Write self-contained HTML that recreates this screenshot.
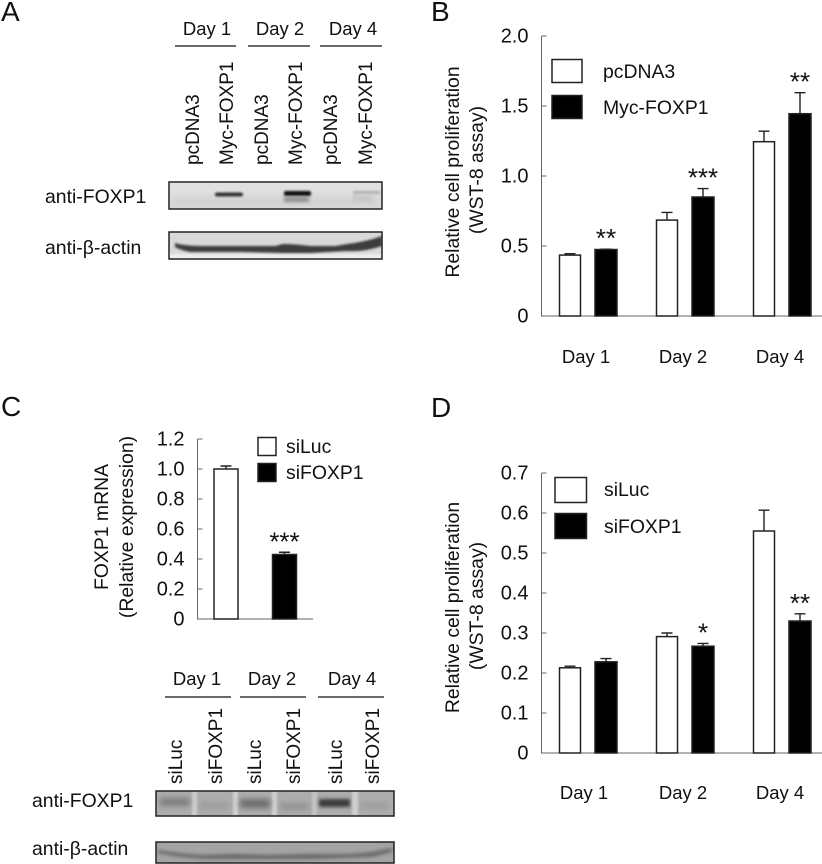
<!DOCTYPE html>
<html lang="en">
<head>
<meta charset="utf-8">
<title>FOXP1 proliferation figure</title>
<style>
html,body{margin:0;padding:0;background:#fff;width:822px;height:864px;overflow:hidden}
svg{display:block}
text{font-family:"Liberation Sans",Arial,sans-serif;font-size:19.4px;fill:#111}
.panel{font-size:28px}
.tick{text-anchor:end;font-size:20px}
.mid{text-anchor:middle}
.day{font-size:18.5px}
.lane{font-size:19px}
</style>
</head>
<body>
<svg id="figure" xmlns="http://www.w3.org/2000/svg" width="822" height="864" viewBox="0 0 822 864">
<defs>
<filter id="b1" x="-30%" y="-100%" width="160%" height="300%"><feGaussianBlur stdDeviation="1.1"/></filter>
<filter id="b2" x="-30%" y="-100%" width="160%" height="300%"><feGaussianBlur stdDeviation="1.8"/></filter>
<filter id="b3" x="-30%" y="-150%" width="160%" height="400%"><feGaussianBlur stdDeviation="2.8"/></filter>
<clipPath id="c1"><rect x="169" y="182" width="213" height="27"/></clipPath>
<clipPath id="c2"><rect x="169" y="232" width="213" height="27"/></clipPath>
<clipPath id="c3"><rect x="156" y="791" width="238" height="25"/></clipPath>
<clipPath id="c4"><rect x="156" y="842" width="238" height="21"/></clipPath>
</defs>

<text class="panel" x="1" y="21">A</text>
<text class="panel" x="431" y="21">B</text>
<text class="panel" x="1" y="416">C</text>
<text class="panel" x="431" y="417">D</text>

<!-- Panel A blot headers -->
<g>
<text class="mid day" x="207" y="35">Day 1</text>
<text class="mid day" x="280" y="35">Day 2</text>
<text class="mid day" x="353" y="35">Day 4</text>
<path d="M175 46H236M248 46H310M320 46H382" stroke="#111" stroke-width="1.2" fill="none"/>
</g>
<g>
<text class="lane" transform="translate(199 165) rotate(-90)">pcDNA3</text>
<text class="lane" transform="translate(233 165) rotate(-90)">Myc-FOXP1</text>
<text class="lane" transform="translate(268 165) rotate(-90)">pcDNA3</text>
<text class="lane" transform="translate(302 165) rotate(-90)">Myc-FOXP1</text>
<text class="lane" transform="translate(337 165) rotate(-90)">pcDNA3</text>
<text class="lane" transform="translate(372 165) rotate(-90)">Myc-FOXP1</text>
</g>
<text x="45" y="203">anti-FOXP1</text>
<text x="45" y="254">anti-β-actin</text>

<g>
<rect x="169" y="182" width="213" height="27" fill="#e0e0e0"/>
<g clip-path="url(#c1)">
<rect x="169" y="196" width="213" height="13" fill="#d4d4d4" filter="url(#b3)"/>
<rect x="215" y="192.5" width="28" height="4" rx="2" fill="#333" filter="url(#b1)"/>
<rect x="284" y="191" width="27" height="5" rx="2" fill="#0c0c0c" filter="url(#b1)"/>
<rect x="284" y="197" width="25" height="5" fill="#8c8c8c" filter="url(#b2)"/>
<rect x="353" y="191" width="27" height="3" fill="#b0b0b0" filter="url(#b1)"/>
<rect x="353" y="195" width="20" height="7" fill="#c8c8c8" filter="url(#b2)"/>
</g>
<rect x="169" y="182" width="213" height="27" fill="none" stroke="#222" stroke-width="1.5"/>
</g>
<g>
<rect x="169" y="232" width="213" height="27" fill="#d8d8d8"/>
<g clip-path="url(#c2)">
<rect x="169" y="254" width="213" height="6" fill="#eee" filter="url(#b1)"/>
<path d="M175 243 Q185 246 206 246 L240 246 L275 246 L283 244 Q295 244 310 246 L335 246 L347 244 Q365 242 382 236 L382 246 Q365 252 347 251 L310 253 L283 253 L240 252 L190 252 Q180 250 175 247Z" fill="#3c3c3c" filter="url(#b1)"/>
</g>
<rect x="169" y="232" width="213" height="27" fill="none" stroke="#222" stroke-width="1.5"/>
</g>

<!-- Panel C blot headers -->
<g>
<text class="mid day" x="197" y="685">Day 1</text>
<text class="mid day" x="272" y="685">Day 2</text>
<text class="mid day" x="352" y="685">Day 4</text>
<path d="M165 697H231M240 697H306M318 697H384" stroke="#111" stroke-width="1.2" fill="none"/>
</g>
<g>
<text class="lane" transform="translate(182 784) rotate(-90)">siLuc</text>
<text class="lane" transform="translate(222 784) rotate(-90)">siFOXP1</text>
<text class="lane" transform="translate(261 784) rotate(-90)">siLuc</text>
<text class="lane" transform="translate(300 784) rotate(-90)">siFOXP1</text>
<text class="lane" transform="translate(342 784) rotate(-90)">siLuc</text>
<text class="lane" transform="translate(379 784) rotate(-90)">siFOXP1</text>
</g>
<text x="32" y="807">anti-FOXP1</text>
<text x="32" y="855">anti-β-actin</text>

<g>
<rect x="156" y="791" width="238" height="25" fill="#adadad"/>
<g clip-path="url(#c3)">
<rect x="192" y="791" width="5" height="25" fill="#cfcfcf" filter="url(#b1)"/>
<rect x="233" y="791" width="5" height="25" fill="#d2d2d2" filter="url(#b1)"/>
<rect x="272" y="791" width="5" height="25" fill="#d2d2d2" filter="url(#b1)"/>
<rect x="352" y="791" width="6" height="25" fill="#d0d0d0" filter="url(#b1)"/>
<rect x="312" y="791" width="5" height="25" fill="#c4c4c4" filter="url(#b1)"/>
<rect x="160" y="798" width="30" height="8" fill="#7c7c7c" filter="url(#b3)"/>
<rect x="200" y="802" width="29" height="7" fill="#9c9c9c" filter="url(#b3)"/>
<rect x="240" y="799" width="30" height="9" fill="#6c6c6c" filter="url(#b3)"/>
<rect x="280" y="803" width="29" height="7" fill="#929292" filter="url(#b3)"/>
<rect x="319" y="799" width="31" height="8" fill="#3a3a3a" filter="url(#b2)"/>
<rect x="361" y="803" width="28" height="6" fill="#9c9c9c" filter="url(#b3)"/>
</g>
<rect x="156" y="791" width="238" height="25" fill="none" stroke="#222" stroke-width="1.5"/>
</g>
<g>
<rect x="156" y="842" width="238" height="21" fill="#a4a4a4"/>
<g clip-path="url(#c4)">
<path d="M158 850 Q180 854 205 855 L235 854 L270 855 L310 854 L350 854 L372 852 L392 848 L392 852 L372 857 L310 859 L205 859 Q175 857 158 853Z" fill="#666" filter="url(#b2)"/>
</g>
<rect x="156" y="842" width="238" height="21" fill="none" stroke="#222" stroke-width="1.5"/>
</g>

<!-- Chart axis titles and legends -->
<text class="mid" transform="translate(459 172) rotate(-90)">Relative cell proliferation</text>
<text class="mid" transform="translate(483 170) rotate(-90)">(WST-8 assay)</text>
<text class="mid" transform="translate(459 607.5) rotate(-90)">Relative cell proliferation</text>
<text class="mid" transform="translate(483 606) rotate(-90)">(WST-8 assay)</text>
<text class="mid" transform="translate(108 527) rotate(-90)">FOXP1 mRNA</text>
<text class="mid" transform="translate(133 527) rotate(-90)">(Relative expression)</text>

<g>
<rect x="552" y="59.5" width="30" height="23" fill="#fff" stroke="#222" stroke-width="1.5"/>
<rect x="552" y="95.5" width="30" height="23" fill="#000" stroke="#222" stroke-width="1.5"/>
<text x="603" y="78">pcDNA3</text>
<text x="603" y="114">Myc-FOXP1</text>
</g>
<g>
<rect x="555" y="477.5" width="31.5" height="25" fill="#fff" stroke="#222" stroke-width="1.5"/>
<rect x="555" y="513.5" width="31.5" height="25" fill="#000" stroke="#222" stroke-width="1.5"/>
<text x="604" y="496">siLuc</text>
<text x="604" y="533">siFOXP1</text>
</g>
<g>
<rect x="258" y="437.5" width="18" height="18" fill="#fff" stroke="#222" stroke-width="1.5"/>
<rect x="258" y="463.5" width="18" height="18" fill="#000" stroke="#222" stroke-width="1.5"/>
<text x="286" y="453">siLuc</text>
<text x="286" y="479">siFOXP1</text>
</g>
<g id="charts"></g>
</svg>

<script>
// Panel B data
const bDays = ['Day 1', 'Day 2', 'Day 4'];
const bPcdna3 = [0.435, 0.685, 1.245];
const bPcdna3Err = [0.01, 0.055, 0.075];
const bMycFoxp1 = [0.475, 0.85, 1.445];
const bMycFoxp1Err = [0.002, 0.06, 0.15];
const bStars = ['**', '***', '**'];
const bTicks = [0, 0.5, 1.0, 1.5, 2.0];
const bTickLabels = ['0', '0.5', '1.0', '1.5', '2.0'];

// Panel D data
const dDays = ['Day 1', 'Day 2', 'Day 4'];
const dSiLuc = [0.213, 0.291, 0.555];
const dSiLucErr = [0.004, 0.009, 0.052];
const dSiFoxp1 = [0.228, 0.267, 0.33];
const dSiFoxp1Err = [0.008, 0.007, 0.018];
const dStars = ['', '*', '**'];
const dTicks = [0, 0.1, 0.2, 0.3, 0.4, 0.5, 0.6, 0.7];
const dTickLabels = ['0', '0.1', '0.2', '0.3', '0.4', '0.5', '0.6', '0.7'];

// Panel C data
const cGroups = ['siLuc', 'siFOXP1'];
const cValues = [1.0, 0.43];
const cErrors = [0.02, 0.015];
const cStars = ['', '***'];
const cTicks = [0, 0.2, 0.4, 0.6, 0.8, 1.0, 1.2];
const cTickLabels = ['0', '0.2', '0.4', '0.6', '0.8', '1.0', '1.2'];

const NS = 'http://www.w3.org/2000/svg';
const root = document.getElementById('charts');

function make(tag, parent, props) {
  const el = document.createElementNS(NS, tag);
  for (const k in props) el.setAttribute(k, props[k]);
  parent.appendChild(el);
  return el;
}

function drawAxes(panel, axis, ticks, labels) {
  const g = make('g', root, {});
  
  
  const line = make('path', g, {
    d: 'M' + axis.x + ' ' + axis.y(axis.max) + 'V' + axis.y(0) + 'H' + axis.right,
    fill: 'none', stroke: '#666', 'stroke-width': 1
  });
  
  
  ticks.forEach(function (t, i) {
    const y = axis.y(t);
    const mark = make('line', g, { x1: axis.x, x2: axis.x + 5, y1: y, y2: y, stroke: '#666', 'stroke-width': 1 });
    
    
    const label = make('text', g, { x: axis.x - 13, y: y + 6.5, 'class': 'tick' });
    label.textContent = labels[i];
    
    
  });
}

function drawBar(panel, axis, cx, halfW, value, err, color, stars) {
  const top = axis.y(value);
  const errTop = axis.y(value + err);
  const stem = make('path', root, {
    d: 'M' + cx + ' ' + top + 'V' + errTop + 'M' + (cx - 5.5) + ' ' + errTop + 'H' + (cx + 5.5),
    fill: 'none', stroke: '#222', 'stroke-width': 1.4
  });
  
  
  const bar = make('rect', root, {
    x: cx - halfW, y: top, width: halfW * 2, height: axis.y(0) - top,
    fill: color, stroke: '#222', 'stroke-width': 1.5
  });
  
  
  if (stars) {
    const s = make('text', root, { x: cx, y: errTop - 2, 'class': 'mid', style: 'font-size:26px' });
    s.textContent = stars;
    
    
  }
}

function linearY(y0, yMax, max) {
  return function (v) { return y0 + (yMax - y0) * v / max; };
}

// Panel B
const axisB = { x: 541.5, right: 822, max: 2.0, y: linearY(316, 36, 2.0) };
drawAxes('panel-b', axisB, bTicks, bTickLabels);
bDays.forEach(function (day, i) {
  const c = 588 + 97 * i;
  drawBar('panel-b', axisB, c - 18, 10.5, bPcdna3[i], bPcdna3Err[i], '#fff', '');
  drawBar('panel-b', axisB, c + 18, 11, bMycFoxp1[i], bMycFoxp1Err[i], '#000', bStars[i]);
  const t = make('text', root, { x: c - 2, y: 363, 'class': 'mid day' });
  t.textContent = day;
  
  
});

// Panel D
const axisD = { x: 541.5, right: 822, max: 0.7, y: linearY(753, 473, 0.7) };
drawAxes('panel-d', axisD, dTicks, dTickLabels);
dDays.forEach(function (day, i) {
  const c = 588 + 97 * i;
  drawBar('panel-d', axisD, c - 18, 10.5, dSiLuc[i], dSiLucErr[i], '#fff', '');
  drawBar('panel-d', axisD, c + 18, 11, dSiFoxp1[i], dSiFoxp1Err[i], '#000', dStars[i]);
  const t = make('text', root, { x: c - 2 + (i === 0 ? -2 : 0), y: 799, 'class': 'mid day' });
  t.textContent = day;
  
  
});

// Panel C
const axisC = { x: 197.5, right: 313, max: 1.2, y: linearY(619, 439, 1.2) };
drawAxes('panel-c', axisC, cTicks, cTickLabels);
cGroups.forEach(function (group, i) {
  const c = 226 + 58.5 * i;
  drawBar('panel-c', axisC, c, 12, cValues[i], cErrors[i], i === 0 ? '#fff' : '#000', cStars[i]);
});
</script>
</body>
</html>
